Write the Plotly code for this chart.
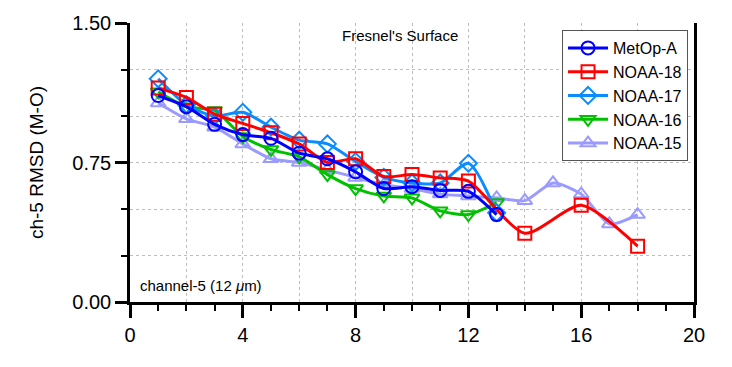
import plotly.graph_objects as go

# Data
metop_x = list(range(1, 14))
metop_y = [1.11, 1.05, 0.955, 0.90, 0.88, 0.80, 0.77, 0.70, 0.61, 0.62, 0.60, 0.595, 0.47]

n18_x = [1, 2, 3, 4, 5, 6, 7, 8, 9, 10, 11, 12, 14, 16, 18]
n18_y = [1.15, 1.10, 1.01, 0.96, 0.91, 0.85, 0.75, 0.77, 0.675, 0.685, 0.667, 0.65, 0.37, 0.52, 0.30]

n17_x = list(range(1, 14))
n17_y = [1.20, 1.06, 1.00, 1.02, 0.94, 0.87, 0.85, 0.755, 0.67, 0.64, 0.64, 0.746, 0.48]

n16_x = list(range(1, 14))
n16_y = [1.13, 1.05, 1.03, 0.89, 0.82, 0.78, 0.685, 0.61, 0.57, 0.56, 0.49, 0.47, 0.535]

n15_x = list(range(1, 19))
n15_y = [1.07, 0.985, 0.94, 0.85, 0.77, 0.75, 0.71, 0.67, 0.63, 0.61, 0.58, 0.57, 0.56,
         0.545, 0.64, 0.58, 0.42, 0.47]

series = [
    ("NOAA-15", n15_x, n15_y, "#9a9aff", "triangle-up-open"),
    ("NOAA-16", n16_x, n16_y, "#00c000", "triangle-down-open"),
    ("NOAA-17", n17_x, n17_y, "#0a8cff", "diamond-open"),
    ("NOAA-18", n18_x, n18_y, "#ff0000", "square-open"),
    ("MetOp-A", metop_x, metop_y, "#0000ff", "circle-open"),
]

fig = go.Figure()
for name, xs, ys, col, sym in series:
    fig.add_trace(go.Scatter(
        x=xs, y=ys, name=name, mode="lines+markers",
        line=dict(color=col, width=3, shape="spline", smoothing=0.7),
        marker=dict(symbol=sym, size=13, color=col, line=dict(width=2, color=col)),
    ))

# helper axis for vertical dotted grid every 2 units
fig.add_trace(go.Scatter(x=[0, 20], y=[None, None], xaxis="x2", showlegend=False,
                         hoverinfo="skip"))

font = "Liberation Sans, Arial, sans-serif"
fig.update_layout(
    width=732, height=367,
    margin=dict(l=130, r=38, t=20, b=65),
    paper_bgcolor="white", plot_bgcolor="white",
    font=dict(family=font, color="black"),
    showlegend=True,
    legend=dict(x=0.766, y=0.975, xanchor="left", yanchor="top",
                traceorder="reversed", bgcolor="white",
                bordercolor="#555555", borderwidth=1,
                font=dict(size=16, family=font), itemwidth=40,
                tracegroupgap=0),
    xaxis=dict(range=[0, 20], tick0=0, dtick=4, showgrid=False, zeroline=False,
               showline=True, linecolor="black", linewidth=2.5,
               ticks="outside", ticklen=13, tickwidth=2.5, tickcolor="black",
               tickfont=dict(size=20), mirror=False,
               minor=dict(dtick=1, ticks="outside", ticklen=6, tickwidth=2, tickcolor="black",
                          showgrid=False)),
    xaxis2=dict(range=[0, 20], overlaying="x", tick0=0, dtick=2, showgrid=True,
                gridcolor="#bdbdbd", griddash="dot", gridwidth=1,
                showticklabels=False, ticks="", zeroline=False, showline=False),
    yaxis=dict(range=[0, 1.5], tick0=0, dtick=0.75, tickformat=".2f",
               showgrid=True, gridcolor="#bdbdbd", griddash="dot", gridwidth=1,
               zeroline=False, showline=True, linecolor="black", linewidth=2.5,
               mirror=True,
               ticks="outside", ticklen=12, tickwidth=2.5, tickcolor="black",
               tickfont=dict(size=20),
               title=dict(text="ch-5 RMSD (M-O)", font=dict(size=19), standoff=24),
               minor=dict(dtick=0.25, ticks="outside", ticklen=6, tickwidth=2,
                          tickcolor="black", showgrid=True, gridcolor="#bdbdbd",
                          griddash="dot", gridwidth=1)),
    annotations=[
        dict(text="Fresnel's Surface", x=0.479, y=0.954, xref="paper", yref="paper",
             yanchor="middle", showarrow=False, font=dict(size=15, family=font)),
        dict(text="channel-5 (12 <i>μ</i>m)", x=0.015, y=0.06, xref="paper", yref="paper",
             xanchor="left", yanchor="middle", showarrow=False,
             font=dict(size=15, family=font)),
    ],
)

fig.write_html("out.html")
